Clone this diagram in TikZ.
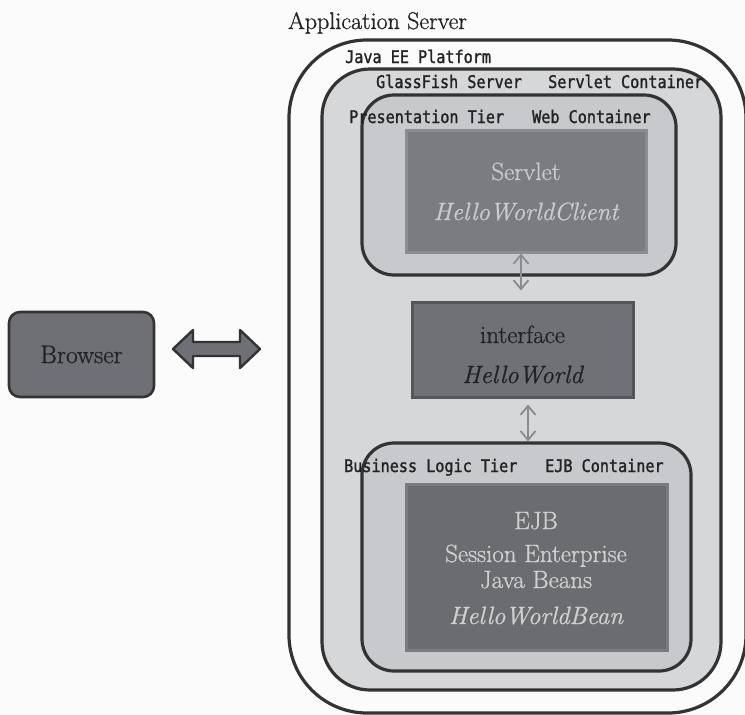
\documentclass[tikz,border=0pt]{standalone}
\usepackage{fontspec}
\setmainfont{Latin Modern Roman}[FakeBold=0.9]
\newfontfamily\gothic[FakeStretch=0.87,FakeBold=1.4]{DejaVu Sans Mono}
\usetikzlibrary{arrows.meta}
\definecolor{bgc}{HTML}{FBFBFC}
\definecolor{edge}{HTML}{333333}
\definecolor{gffill}{HTML}{D6D7D9}
\definecolor{tierfill}{HTML}{C8C9CC}
\definecolor{srvfill}{HTML}{7B7C81}
\definecolor{srvedge}{HTML}{8B8C90}
\definecolor{srvtext}{HTML}{C9CACD}
\definecolor{iffill}{HTML}{707176}
\definecolor{ifedge}{HTML}{55565A}
\definecolor{iftext}{HTML}{222224}
\definecolor{ejbfill}{HTML}{6B6C70}
\definecolor{ejbedge}{HTML}{7A7B7F}
\definecolor{ejbtext}{HTML}{CFD0D2}
\definecolor{brfill}{HTML}{6F7075}
\definecolor{arrgray}{HTML}{8A8B8F}
\begin{document}
\begin{tikzpicture}[x=1pt,y=-1pt,
  container/.style={draw=edge, line width=3.2pt, inner sep=0pt},
  outerbox/.style={container, fill=bgc, rounded corners=78pt},
  gfbox/.style={container, fill=gffill, rounded corners=48pt},
  tierbox/.style={container, fill=tierfill, rounded corners=32pt},
  compbox/.style={line width=3pt, inner sep=0pt},
  glabel/.style={anchor=base west, inner sep=0pt, text=iftext, font=\gothic\fontsize{17.4}{20}\selectfont},
  serif/.style={anchor=base, inner sep=0pt, font=\fontsize{25}{30}\selectfont},
  smallarr/.style={draw=arrgray, line width=1.8pt, {Straight Barb[length=9pt,width=15pt]}-{Straight Barb[length=9pt,width=15pt]}}
]
\useasboundingbox[fill=bgc] (0,0) rectangle (745,715);

% title
\node[anchor=base west, inner sep=0pt, font=\fontsize{24}{28}\selectfont, text=iftext] (appserver) at (288,29) {Application Server};

% nested containers
\node[outerbox, minimum width=457pt, minimum height=673pt] (javaee) at (517.5,376.5) {};
\node[gfbox, minimum width=399pt, minimum height=621pt] (glassfish) at (521.5,379.5) {};
\node[tierbox, minimum width=314pt, minimum height=180pt] (prestier) at (519,185) {};
\node[tierbox, minimum width=329pt, minimum height=228pt] (biztier) at (526.5,557) {};

% component boxes
\node[compbox, draw=srvedge, fill=srvfill, minimum width=240pt, minimum height=122pt] (servlet) at (526,191) {};
\node[compbox, draw=ifedge, fill=iffill, minimum width=221pt, minimum height=95pt] (iface) at (522.5,349.5) {};
\node[compbox, draw=ejbedge, fill=ejbfill, minimum width=261pt, minimum height=166pt] (ejb) at (536.5,567) {};
\node[draw=edge, line width=2.6pt, fill=brfill, rounded corners=11pt, minimum width=145pt, minimum height=85pt, inner sep=0pt,
      text=iftext, font=\fontsize{25.5}{30}\selectfont] (browser) at (81.5,354.5) {Browser};

% container labels
\node[glabel] (lbljava) at (345,63) {Java EE Platform};
\node[glabel] (lblgf) at (376,88) {GlassFish Server};
\node[glabel] (lblsc) at (548,88) {Servlet Container};
\node[glabel] (lblpt) at (349,123) {Presentation Tier};
\node[glabel] (lblwc) at (532,123) {Web Container};
\node[glabel] (lblbt) at (344,472) {Business Logic Tier};
\node[glabel] (lblec) at (545,472) {EJB Container};

% component texts
\node[serif, text=srvtext] (servletname) at (526,180) {Servlet};
\node[serif, text=srvtext] (servletclass) at (526,220) {\itshape HelloWorldClient};
\node[serif, text=iftext] (ifacename) at (522.5,343) {interface};
\node[serif, text=iftext] (ifaceclass) at (522.5,383) {\itshape HelloWorld};
\node[serif, text=ejbtext] (ejbname) at (536,529) {EJB};
\node[serif, text=ejbtext] (ejbline2) at (536,562) {Session Enterprise};
\node[serif, text=ejbtext] (ejbline3) at (536,588) {Java Beans};
\node[serif, text=ejbtext] (ejbclass) at (536,624) {\itshape HelloWorldBean};

% small arrows
\draw[smallarr, shorten >=10pt] ([xshift=-5pt]servlet.south) -- ([xshift=-5pt]servlet.south |- iface.north);
\draw[smallarr, shorten <=6pt] ([xshift=5.5pt]iface.south) -- ([xshift=5.5pt]iface.south |- biztier.north);

% big double arrow between browser and server
\coordinate (bigL) at (173,349);
\coordinate (bigR) at (260,349);
\filldraw[draw=edge, fill=brfill, line width=2.4pt, line join=round]
  (bigL) -- ++(20,-19) -- ++(0,12) -- ++(47,0) -- ++(0,-12) -- (bigR)
  -- ++(-20,19) -- ++(0,-12) -- ++(-47,0) -- ++(0,12) -- cycle;
\end{tikzpicture}
\end{document}
